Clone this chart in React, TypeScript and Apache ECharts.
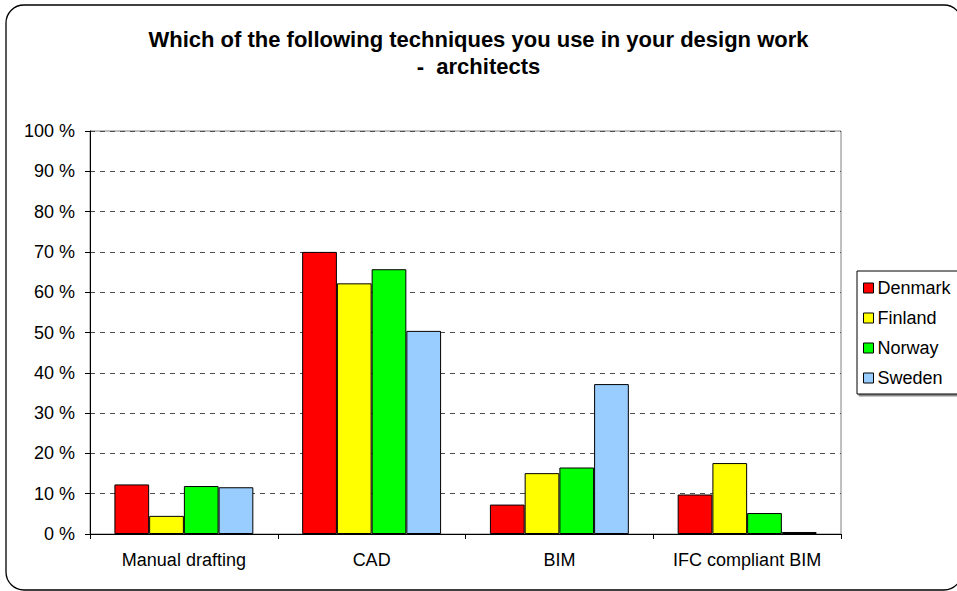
import React, { useEffect, useRef } from "react";
import * as echarts from "echarts";

const categories = ["Manual drafting", "CAD", "BIM", "IFC compliant BIM"];
const countries = ["Denmark", "Finland", "Norway", "Sweden"];
const denmark = [12.3, 70.0, 7.3, 9.8];
const finland = [4.5, 62.2, 15.1, 17.6];
const norway = [11.9, 65.7, 16.5, 5.2];
const sweden = [11.6, 50.4, 37.2, 0.5];
const seriesValues = [denmark, finland, norway, sweden];
const colors = ["#FF0000", "#FFFF00", "#00FF00", "#99CCFF"];
const titleLine1 = "Which of the following techniques you use in your design work";
const titleLine2 = "-  architects";

const FONT = "'Liberation Sans', Arial, sans-serif";

export default function App() {
  const ref = useRef<HTMLDivElement>(null);
  useEffect(() => {
    if (!ref.current) return;
    const chart = echarts.init(ref.current, undefined, { renderer: "svg" });
    const titleStyle = {
      fontFamily: FONT,
      fontSize: 22,
      fontWeight: "bold",
      color: "#000",
    };
    chart.setOption({
      animation: false,
      backgroundColor: "#ffffff",
      title: [
        { text: titleLine1, left: "center", top: 28, padding: 0, textStyle: titleStyle },
        { text: titleLine2, left: "center", top: 55, padding: 0, textStyle: titleStyle },
      ],
      graphic: [
        {
          type: "rect",
          shape: { x: 6, y: 5, width: 956, height: 585, r: 18 },
          style: { fill: "none", stroke: "#000", lineWidth: 1.3 },
          silent: true,
          z: 100,
        },
      ],
      legend: {
        orient: "vertical",
        left: 857,
        top: 271,
        padding: [8, 12, 7, 6],
        itemWidth: 10,
        itemHeight: 10,
        itemGap: 12,
        icon: "rect",
        borderColor: "#000",
        borderWidth: 1,
        backgroundColor: "#fff",
        shadowColor: "rgba(0,0,0,0.45)",
        shadowOffsetX: 2,
        shadowOffsetY: 2,
        shadowBlur: 0,
        itemStyle: { borderColor: "#000", borderWidth: 1 },
        textStyle: {
          fontFamily: FONT,
          fontSize: 18,
          color: "#000",
          lineHeight: 18,
          padding: [0, 0, 0, -1],
        },
        data: countries,
      },
      grid: {
        left: 90,
        right: 116,
        top: 131,
        bottom: 57,
        show: true,
        borderColor: "#808080",
        borderWidth: 1,
        containLabel: false,
      },
      xAxis: {
        type: "category",
        data: categories,
        axisLine: { show: true, lineStyle: { color: "#000", width: 1 } },
        axisTick: {
          show: true,
          interval: 0,
          alignWithLabel: false,
          length: 5,
          lineStyle: { color: "#000" },
        },
        axisLabel: { interval: 0, fontFamily: FONT, fontSize: 18, color: "#000", margin: 17 },
        splitLine: { show: false },
      },
      yAxis: {
        type: "value",
        min: 0,
        max: 100,
        interval: 10,
        axisLine: { show: true, lineStyle: { color: "#000", width: 1 } },
        axisTick: { show: true, length: 5, lineStyle: { color: "#000" } },
        axisLabel: {
          fontFamily: FONT,
          fontSize: 18,
          color: "#000",
          margin: 15,
          formatter: "{value} %",
        },
        splitLine: {
          show: true,
          lineStyle: { color: "#4d4d4d", type: [5, 5], width: 1 },
        },
      },
      series: countries.map((name, i) => ({
        name,
        type: "bar",
        data: seriesValues[i],
        barGap: "0%",
        barCategoryGap: "26%",
        itemStyle: { color: colors[i], borderColor: "#000", borderWidth: 1 },
      })),
    });
    return () => chart.dispose();
  }, []);
  return (
    <div
      ref={ref}
      style={{ position: "fixed", left: 0, top: 0, width: 957, height: 591, background: "#fff" }}
    />
  );
}
